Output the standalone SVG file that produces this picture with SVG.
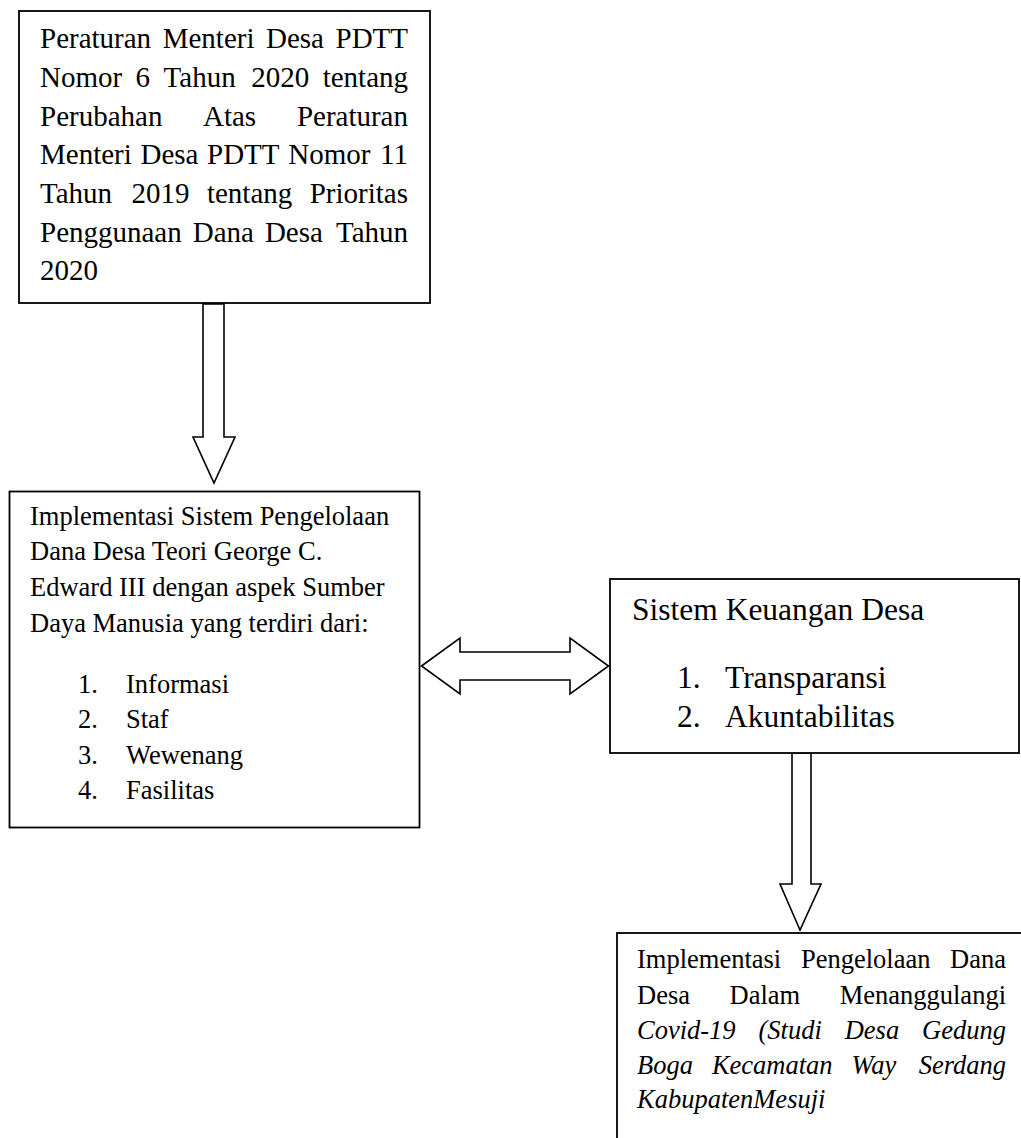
<svg xmlns="http://www.w3.org/2000/svg" width="1021" height="1138" viewBox="0 0 1021 1138">
<style>
.box{fill:#fff;stroke:#000;stroke-width:1.8}
.arr{fill:#fff;stroke:#000;stroke-width:1.6;stroke-linejoin:miter}
text{font-family:"Liberation Serif","Times New Roman",serif;fill:#000}
.t1{font-size:29px}
.t2{font-size:26.5px}
.t3{font-size:31.5px}
.it{font-style:italic}
.e{text-anchor:end}
</style>
<rect width="1021" height="1138" fill="#fff"/>
<g id="connectors">
<polygon class="arr" points="203,304 224,304 224,437 235,437 214,483 193,437 203,437"/>
<polygon class="arr" points="421.5,666 460,638 460,652 570,652 570,638 608.5,666 570,694 570,680 460,680 460,694"/>
<polygon class="arr" points="792,753 811,753 811,884 821,884 800,930 780,884 792,884"/>
</g>
<g id="node-peraturan">
<rect class="box" x="19" y="11" width="411" height="292"/>
<g class="t1">
<text x="40" y="48">Peraturan</text><text x="162.7" y="48">Menteri</text><text x="266" y="48">Desa</text><text class="e" x="408" y="48">PDTT</text>
<text x="40" y="87">Nomor</text><text x="135.6" y="87">6</text><text x="163.6" y="87">Tahun</text><text x="251.2" y="87">2020</text><text class="e" x="408" y="87">tentang</text>
<text x="40" y="126">Perubahan</text><text x="203" y="126">Atas</text><text class="e" x="408" y="126">Peraturan</text>
<text x="40" y="164">Menteri</text><text x="140.5" y="164">Desa</text><text x="207" y="164">PDTT</text><text x="288.2" y="164">Nomor</text><text class="e" x="408" y="164">11</text>
<text x="40" y="203">Tahun</text><text x="131.5" y="203">2019</text><text x="206.9" y="203">tentang</text><text class="e" x="408" y="203">Prioritas</text>
<text x="40" y="242">Penggunaan</text><text x="192.8" y="242">Dana</text><text x="264.9" y="242">Desa</text><text class="e" x="408" y="242">Tahun</text>
<text x="40" y="280">2020</text>
</g>
</g>
<g id="node-implementasi-sistem">
<rect class="box" x="9.5" y="491.5" width="410" height="336"/>
<g class="t2">
<text x="30" y="525">Implementasi Sistem Pengelolaan</text>
<text x="30" y="560">Dana Desa Teori George C.</text>
<text x="30" y="596">Edward III dengan aspek Sumber</text>
<text x="30" y="632">Daya Manusia yang terdiri dari:</text>
<text x="78" y="693">1.</text><text x="126" y="693">Informasi</text>
<text x="78" y="728">2.</text><text x="126" y="728">Staf</text>
<text x="78" y="764">3.</text><text x="126" y="764">Wewenang</text>
<text x="78" y="799">4.</text><text x="126" y="799">Fasilitas</text>
</g>
</g>
<g id="node-sistem-keuangan">
<rect class="box" x="610" y="579" width="409" height="174"/>
<g class="t3">
<text x="632" y="620">Sistem Keuangan Desa</text>
<text x="677" y="688">1.</text><text x="725" y="688">Transparansi</text>
<text x="677" y="727">2.</text><text x="725" y="727">Akuntabilitas</text>
</g>
</g>
<g id="node-implementasi-pengelolaan">
<rect class="box" x="617" y="933" width="420" height="220"/>
<g class="t2">
<text x="637" y="968">Implementasi</text><text x="800.9" y="968">Pengelolaan</text><text class="e" x="1006" y="968">Dana</text>
<text x="637" y="1003.5">Desa</text><text x="729.5" y="1003.5">Dalam</text><text class="e" x="1006" y="1003.5">Menanggulangi</text>
<text class="it" x="637" y="1039">Covid-19</text><text class="it" x="758.5" y="1039">(Studi</text><text class="it" x="844.7" y="1039">Desa</text><text class="it e" x="1006" y="1039">Gedung</text>
<text class="it" x="637" y="1074">Boga</text><text class="it" x="711.9" y="1074">Kecamatan</text><text class="it" x="851.6" y="1074">Way</text><text class="it e" x="1006" y="1074">Serdang</text>
<text class="it" x="637" y="1108">KabupatenMesuji</text>
</g>
</g>
</svg>
